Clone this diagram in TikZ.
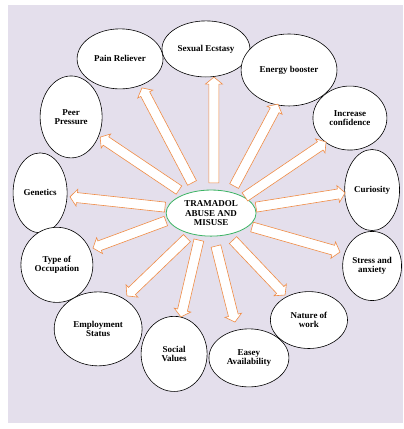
\documentclass[tikz,border=0pt]{standalone}
\usepackage{fontspec}
\setmainfont{Liberation Serif}
\usetikzlibrary{shapes.geometric,calc}
\definecolor{bglilac}{RGB}{228,223,236}
\definecolor{arroworange}{RGB}{240,140,70}
\definecolor{ringgreen}{RGB}{60,180,100}
\tikzset{
 bubble/.style={draw=black, line width=0.6pt, fill=white, ellipse, inner sep=0pt, align=center, font=\fontsize{9}{9.5}\selectfont\bfseries},
 blockarrow/.style={draw=arroworange, fill=white, line width=0.6pt, line join=miter,
  to path={($(\tikztostart)!5pt!90:(\tikztotarget)$)
   -- ($(\tikztotarget)!7pt!(\tikztostart)!5pt!-90:(\tikztostart)$)
   -- ($(\tikztotarget)!7pt!(\tikztostart)!8.5pt!-90:(\tikztostart)$)
   -- (\tikztotarget)
   -- ($(\tikztotarget)!7pt!(\tikztostart)!8.5pt!90:(\tikztostart)$)
   -- ($(\tikztotarget)!7pt!(\tikztostart)!5pt!90:(\tikztostart)$)
   -- ($(\tikztostart)!5pt!-90:(\tikztotarget)$) -- cycle}}
}
\begin{document}
\begin{tikzpicture}

\useasboundingbox (0,0) rectangle (14.17,-15.08);
\fill[bglilac] (0.28,-0.18) rectangle (14.17,-14.87);


\node[bubble, draw=ringgreen, line width=0.8pt, minimum width=3.16cm, minimum height=1.62cm] (core) at (7.42,-7.49) {TRAMADOL\\ABUSE AND\\MISUSE};

\node[bubble, minimum width=3.02cm, minimum height=2.11cm] (pain) at (4.22,-2.07) {Pain Reliever};
\node[bubble, minimum width=3.09cm, minimum height=1.97cm] (sexual) at (7.24,-1.72) {Sexual Ecstasy};
\node[bubble, minimum width=3.37cm, minimum height=2.53cm] (energy) at (10.16,-2.46) {Energy booster};
\node[bubble, minimum width=2.18cm, minimum height=2.88cm] (peer) at (2.50,-4.11) {Peer\\Pressure};
\node[bubble, minimum width=2.60cm, minimum height=2.25cm] (confid) at (12.30,-4.15) {Increase\\confidence};
\node[bubble, minimum width=1.90cm, minimum height=2.81cm] (genet) at (1.41,-6.78) {Genetics};
\node[bubble, minimum width=1.93cm, minimum height=2.85cm] (curious) at (13.08,-6.68) {Curiosity};
\node[bubble, minimum width=2.53cm, minimum height=2.64cm] (occup) at (2.00,-9.31) {Type of\\Occupation};
\node[bubble, minimum width=2.07cm, minimum height=2.43cm] (stress) at (13.08,-9.35) {Stress and\\anxiety};
\node[bubble, minimum width=3.09cm, minimum height=2.60cm] (employ) at (3.45,-11.56) {Employment\\Status};
\node[bubble, minimum width=2.32cm, minimum height=2.64cm] (social) at (6.12,-12.44) {Social\\Values};
\node[bubble, minimum width=2.81cm, minimum height=2.04cm] (easey) at (8.75,-12.58) {Easey\\Availability};
\node[bubble, minimum width=2.71cm, minimum height=2.00cm] (nature) at (10.86,-11.25) {Nature of\\work};


\coordinate (v1) at (6.75,-6.43);
\coordinate (v2) at (4.99,-3.09);
\coordinate (v3) at (7.52,-6.43);
\coordinate (v4) at (7.52,-2.71);
\coordinate (v5) at (8.23,-6.54);
\coordinate (v6) at (9.77,-3.66);
\coordinate (v7) at (8.61,-6.92);
\coordinate (v8) at (11.46,-4.99);
\coordinate (v9) at (9.00,-7.28);
\coordinate (v10) at (12.13,-6.78);
\coordinate (v11) at (8.86,-7.98);
\coordinate (v12) at (11.95,-8.86);
\coordinate (v13) at (8.19,-8.44);
\coordinate (v14) at (10.02,-10.37);
\coordinate (v15) at (7.59,-8.65);
\coordinate (v16) at (8.26,-11.32);
\coordinate (v17) at (6.99,-8.44);
\coordinate (v18) at (6.36,-11.14);
\coordinate (v19) at (6.57,-8.37);
\coordinate (v20) at (4.46,-10.40);
\coordinate (v21) at (5.83,-7.77);
\coordinate (v22) at (3.27,-8.72);
\coordinate (v23) at (5.80,-7.28);
\coordinate (v24) at (2.46,-6.92);
\coordinate (v25) at (6.29,-6.68);
\coordinate (v26) at (3.52,-4.82);

\draw[blockarrow] (v1) to (v2);
\draw[blockarrow] (v3) to (v4);
\draw[blockarrow] (v5) to (v6);
\draw[blockarrow] (v7) to (v8);
\draw[blockarrow] (v9) to (v10);
\draw[blockarrow] (v11) to (v12);
\draw[blockarrow] (v13) to (v14);
\draw[blockarrow] (v15) to (v16);
\draw[blockarrow] (v17) to (v18);
\draw[blockarrow] (v19) to (v20);
\draw[blockarrow] (v21) to (v22);
\draw[blockarrow] (v23) to (v24);
\draw[blockarrow] (v25) to (v26);

\end{tikzpicture}
\end{document}
